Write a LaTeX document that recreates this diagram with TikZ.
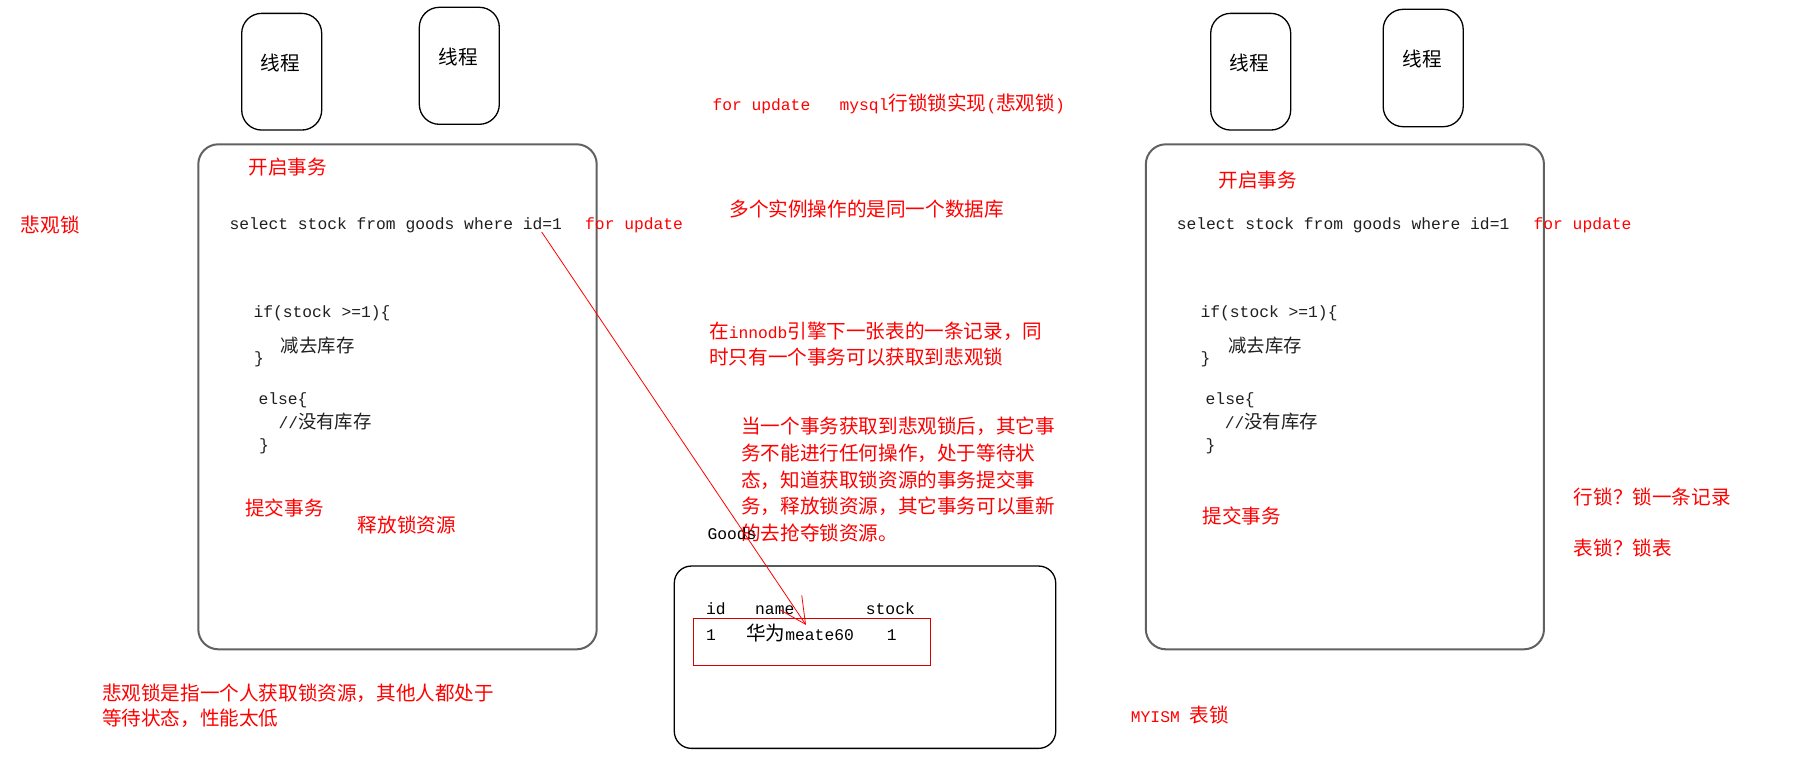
\documentclass[tikz,border=0pt]{standalone}
\usepackage{fontspec}
\setmonofont{Liberation Mono}
\newfontfamily\cjkfont{Noto Sans CJK SC}
\usetikzlibrary{arrows.meta}
\newcommand\zh[1]{{\cjkfont\fontsize{19.6}{24}\selectfont #1}}
\newcommand\zhs[1]{{\cjkfont\fontsize{18.4}{24}\selectfont #1}}
\newcommand\en[1]{{\ttfamily\fontsize{16.3}{24}\selectfont #1}}
\begin{document}
\begin{tikzpicture}[x=1pt,y=-1pt,
  lbl/.style={inner sep=0pt, anchor=west},
  code/.style={inner sep=0pt, anchor=base west, text=black!88},
  note/.style={inner sep=0pt, anchor=west, text=red},
  thread/.style={draw=black, line width=1.3pt, rounded corners=20pt, inner sep=0pt},
  mainbox/.style={draw=black!62, line width=2pt, rounded corners=20pt, inner sep=0pt},
  tablebox/.style={draw=black, line width=1.3pt, rounded corners=17pt, inner sep=0pt},
  rowbox/.style={draw=red!85!black, line width=1.3pt, inner sep=0pt},
  link/.style={draw=red, line width=0.8pt, -{Straight Barb[length=26pt,width=26pt]}}
]
\fill[white] (0,0) rectangle (1799,769);
\useasboundingbox (0,0) rectangle (1799,769);

% thread boxes
\node[thread, minimum width=80pt, minimum height=116.7pt] (t1) at (281.7,71.7) {};
\node[thread, minimum width=80pt, minimum height=117pt] (t2) at (459.3,65.8) {};
\node[thread, minimum width=80pt, minimum height=116.7pt] (t3) at (1250.7,71.7) {};
\node[thread, minimum width=80pt, minimum height=117.4pt] (t4) at (1423.2,68) {};
\node[lbl, anchor=center] (t1txt) at (280.2,63) {\zh{线程}};
\node[lbl, anchor=center] (t2txt) at (458.3,57) {\zh{线程}};
\node[lbl, anchor=center] (t3txt) at (1249.3,63) {\zh{线程}};
\node[lbl, anchor=center] (t4txt) at (1422.2,59) {\zh{线程}};

% main boxes
\node[mainbox, minimum width=398.4pt, minimum height=505pt] (m1) at (397.5,396.8) {};
\node[mainbox, minimum width=398.1pt, minimum height=505pt] (m2) at (1344.9,396.8) {};

% left box contents
\node[note] (l-begin) at (248.3,166.7) {\zh{开启事务}};
\node[code] (l-sel) at (229.3,229) {\en{select stock from goods where id=1}};
\node[code, text=red] (l-fu) at (585,229) {\en{for update}};
\node[code] (l-if) at (253.3,317) {\en{if(stock >=1)\{}};
\node[lbl, text=black!88] (l-dec) at (280.7,346) {\zhs{减去库存}};
\node[code] (l-c1) at (254,363) {\en{\}}};
\node[code] (l-else) at (258.3,404) {\en{else\{}};
\node[lbl, text=black!88] (l-none) at (278.3,421.7) {\en{//}\zhs{没有库存}};
\node[code] (l-c2) at (259,450) {\en{\}}};
\node[note] (l-commit) at (245,508.3) {\zh{提交事务}};
\node[note] (l-release) at (357.7,525) {\zh{释放锁资源}};

% right box contents
\node[note] (r-begin) at (1218.4,180) {\zh{开启事务}};
\node[code] (r-sel) at (1176.6,229.5) {\en{select stock from goods where id=1}};
\node[code, text=red] (r-fu) at (1533.4,229.5) {\en{for update}};
\node[code] (r-if) at (1200.4,317) {\en{if(stock >=1)\{}};
\node[lbl, text=black!88] (r-dec) at (1228,346) {\zhs{减去库存}};
\node[code] (r-c1) at (1200.4,363) {\en{\}}};
\node[code] (r-else) at (1205.5,404) {\en{else\{}};
\node[lbl, text=black!88] (r-none) at (1224.7,421.7) {\en{//}\zhs{没有库存}};
\node[code] (r-c2) at (1205.5,450) {\en{\}}};
\node[note] (r-commit) at (1202.5,516) {\zh{提交事务}};

% left notes
\node[note] (pess) at (20.7,225) {\zh{悲观锁}};
\node[note] (desc1) at (101.8,693.3) {\zh{悲观锁是指一个人获取锁资源，其他人都处于}};
\node[note] (desc2) at (101.8,718.3) {\zh{等待状态，性能太低}};

% middle notes
\node[note] (title) at (712.3,104) {\en{for update~~~mysql}\zh{行锁锁实现}\en{(}\zh{悲观锁}\en{)}};
\node[note] (multi) at (729.3,209) {\zh{多个实例操作的是同一个数据库}};
\node[note] (inno1) at (709,331) {\zh{在}\en{innodb}\zh{引擎下一张表的一条记录，同}};
\node[note] (inno2) at (709,357.5) {\zh{时只有一个事务可以获取到悲观锁}};
\node[note] (wait1) at (741,426.7) {\zh{当一个事务获取到悲观锁后，其它事}};
\node[note] (wait2) at (741,453.3) {\zh{务不能进行任何操作，处于等待状}};
\node[note] (wait3) at (741,479.8) {\zh{态，知道获取锁资源的事务提交事}};
\node[note] (wait4) at (741,506.2) {\zh{务，释放锁资源，其它事务可以重新}};
\node[note] (wait5) at (741,532.7) {\zh{的去抢夺锁资源。}};

% right notes
\node[note] (rowlock) at (1573.7,496.7) {\zh{行锁？锁一条记录}};
\node[note] (tablock) at (1573.7,548.3) {\zh{表锁？锁表}};
\node[note] (myism) at (1130.7,715) {\en{MYISM }\zh{表锁}};

% goods table
\node[code, text=black] (goods) at (707.3,539) {\en{Goods}};
\node[tablebox, minimum width=381.4pt, minimum height=182.3pt] (tbl) at (865,657.2) {};
\node[code, text=black] (h-id) at (706,614) {\en{id}};
\node[code, text=black] (h-name) at (755,614) {\en{name}};
\node[code, text=black] (h-stock) at (865.7,614) {\en{stock}};
\node[code, text=black] (v-id) at (706,640) {\en{1}};
\node[code, text=black] (v-name) at (746,640) {\zh{华为}\en{meate60}};
\node[code, text=black] (v-stock) at (886.7,640) {\en{1}};
\node[rowbox, minimum width=237pt, minimum height=46.6pt] (row) at (811.8,642) {};

% connector
\coordinate (as) at (541.7,232);
\coordinate (ae) at (806,625);
\draw[link] (as) -- (ae);
\end{tikzpicture}
\end{document}
